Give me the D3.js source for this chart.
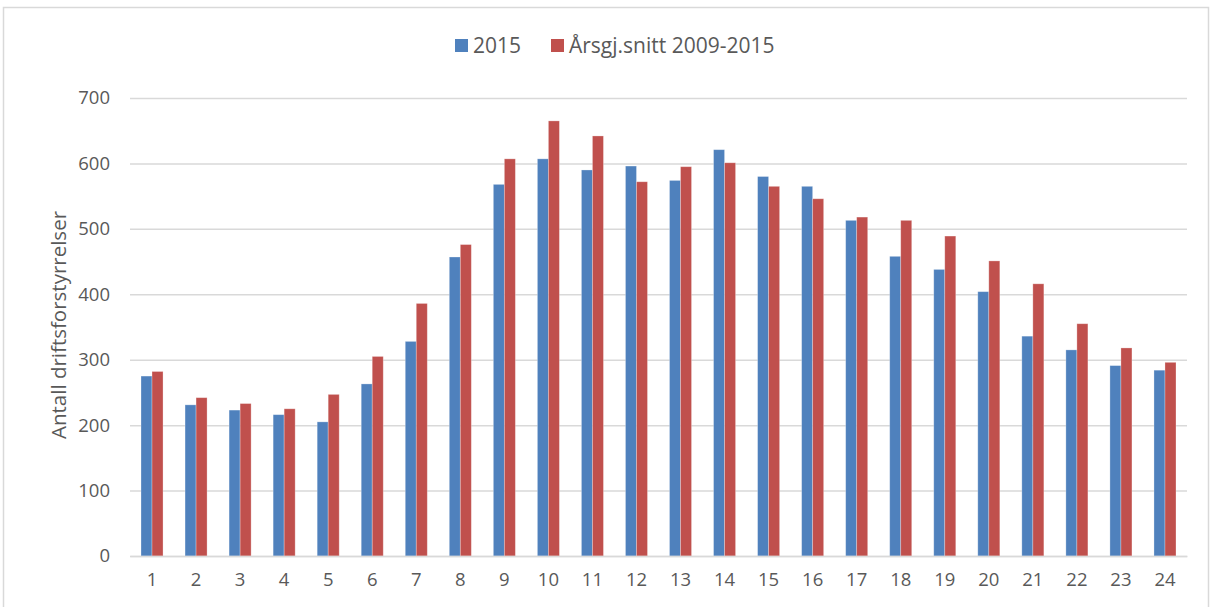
<!DOCTYPE html>
<html>
<head>
<meta charset="utf-8">
<script src="https://cdn.jsdelivr.net/npm/d3@7"></script>
<style>
   body { margin: 0; background: #fff; }
   text { font-family: "Open Sans", sans-serif; fill: #595959; }
</style>
</head>
<body>
<div id="chart"></div>
<script>

// CATEGORIES (HOURS)
var hours = ['1','2','3','4','5','6','7','8','9','10','11','12','13','14','15','16','17','18','19','20','21','22','23','24'];

// SERIES VALUES
var values2015 = [275, 231, 223, 216, 205, 263, 328, 457, 568, 607, 590, 596, 574, 621, 580, 565, 513, 458, 438, 404, 336, 315, 291, 284];
var valuesAvg  = [282, 242, 233, 225, 247, 305, 386, 476, 607, 665, 642, 572, 595, 601, 565, 546, 518, 513, 489, 451, 416, 355, 318, 296];

// SERIES NAMES & Y TICKS
var seriesNames = ['2015', 'Årsgj.snitt 2009-2015'];
var yTicks = [0, 100, 200, 300, 400, 500, 600, 700];

// SETTINGS
var settings = {
   width: 1213,
   height: 607,
   margin: { left: 130, right: 26, top: 98, bottom: 51 },
   colors: ['#4f81bd', '#c0504d'],
   grid: '#d9d9d9'
};

// CANVAS
var svg = d3.select('#chart').append('svg')
   .attr('width', settings.width)
   .attr('height', settings.height)

// CHART FRAME
svg.append('rect')
   .attr('x', 3.5).attr('y', 7.5)
   .attr('width', 1205).attr('height', 620)
   .attr('fill', 'none')
   .attr('stroke', settings.grid)
   .attr('stroke-width', 1.5)

var innerW = settings.width - settings.margin.left - settings.margin.right;
var innerH = settings.height - settings.margin.top - settings.margin.bottom;

var g = svg.append('g')
   .attr('transform', 'translate(' + settings.margin.left + ',' + settings.margin.top + ')')

// SCALES
var xScale = d3.scaleBand()
   .domain(hours)
   .range([0, innerW])
   .paddingInner(0.5)
   .paddingOuter(0.25)

var xSub = d3.scaleBand()
   .domain([0, 1])
   .range([0, xScale.bandwidth()])

var yScale = d3.scaleLinear()
   .domain([0, 700])
   .range([innerH, 0])

// GRIDLINES + Y LABELS
var yAxis = d3.axisLeft(yScale)
   .tickValues(yTicks)
   .tickSize(-innerW)
   .tickPadding(20)

g.append('g')
   .call(yAxis)
   .call(a => a.select('.domain').remove())
   .call(a => a.selectAll('line').attr('stroke', settings.grid).attr('stroke-width', 1.5))
   .call(a => a.selectAll('text').style('font-size', '18.5px').attr('fill', '#595959'))

// BARS
var series = [values2015, valuesAvg];
series.forEach((vals, s) => {
   g.selectAll('rect.s' + s)
      .data(vals)
      .enter().append('rect')
         .attr('class', 's' + s)
         .attr('x', (d, i) => xScale(hours[i]) + xSub(s))
         .attr('y', d => yScale(d))
         .attr('width', xSub.bandwidth())
         .attr('height', d => yScale(0) - yScale(d))
         .attr('fill', settings.colors[s])
         .attr('stroke', '#ffffff')
         .attr('stroke-opacity', 0.35)
         .attr('stroke-width', 0.8)
});

// X AXIS
var xAxis = d3.axisBottom(xScale)
   .tickSize(0)
   .tickPadding(17)

g.append('g')
   .attr('transform', 'translate(0,' + innerH + ')')
   .call(xAxis)
   .call(a => a.select('.domain').attr('stroke', settings.grid).attr('stroke-width', 1.5))
   .call(a => a.selectAll('text').style('font-size', '18.5px').attr('fill', '#595959'))

// Y AXIS TITLE
svg.append('text')
   .attr('transform', 'translate(66,' + (settings.margin.top + innerH / 2 - 2) + ') rotate(-90)')
   .attr('text-anchor', 'middle')
   .style('font-size', '20.5px')
   .text('Antall driftsforstyrrelser')

// LEGEND
var legend = svg.append('g')
var lx = [455, 551];
seriesNames.forEach((name, s) => {
   legend.append('rect')
      .attr('x', lx[s]).attr('y', 39)
      .attr('width', 13).attr('height', 13)
      .attr('fill', settings.colors[s])
   legend.append('text')
      .attr('x', lx[s] + 18).attr('y', 53)
      .style('font-size', '21px')
      .text(name)
});

</script>
</body>
</html>
